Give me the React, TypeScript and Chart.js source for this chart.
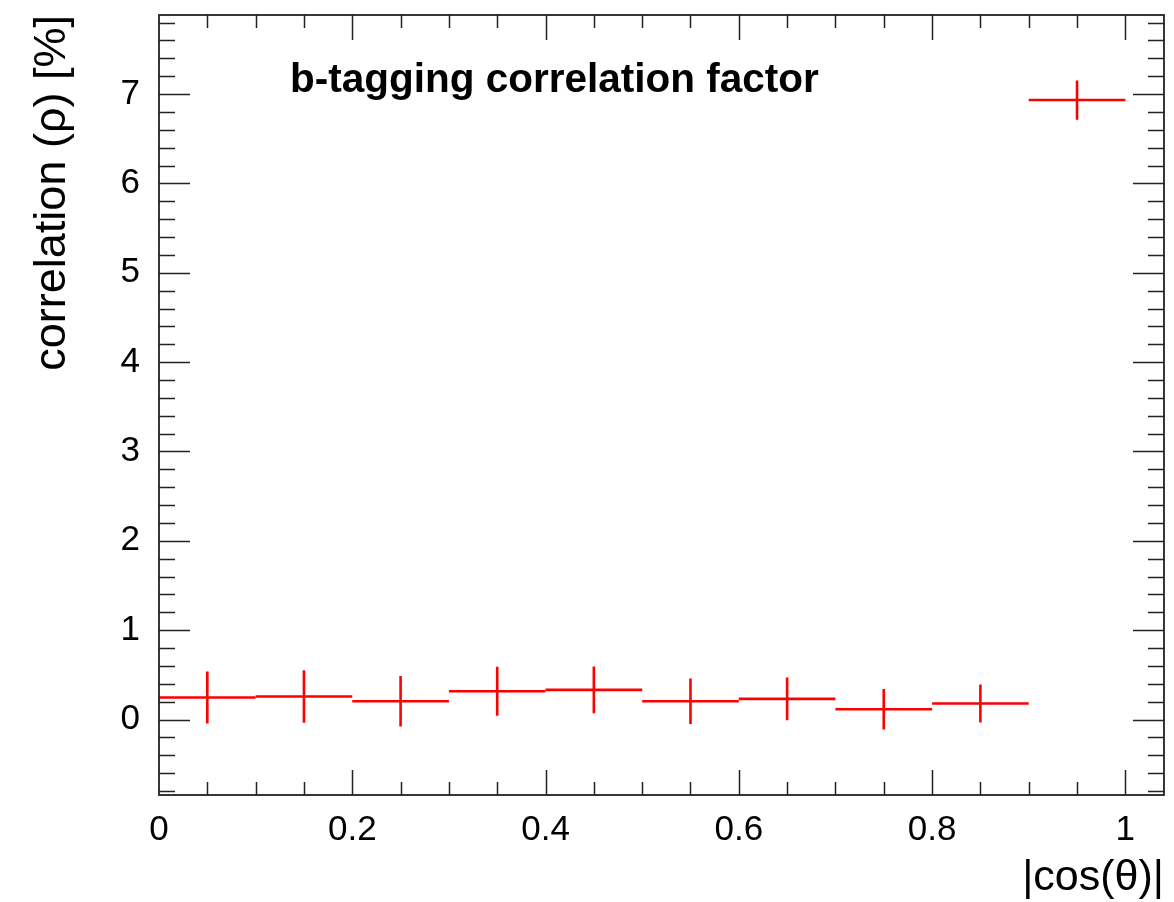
import React, { useEffect, useRef } from "react";
import { Chart, registerables } from "chart.js";

Chart.register(...registerables);

// ---- data ----
const binCenters = [0.05, 0.15, 0.25, 0.35, 0.45, 0.55, 0.65, 0.75, 0.85, 0.95];
const binHalfWidths = [0.05, 0.05, 0.05, 0.05, 0.05, 0.05, 0.05, 0.05, 0.05, 0.05];
const correlation = [0.246, 0.258, 0.205, 0.317, 0.332, 0.205, 0.231, 0.115, 0.179, 6.933];
const correlationErr = [0.29, 0.293, 0.282, 0.274, 0.262, 0.254, 0.239, 0.226, 0.213, 0.219];

const xTickValues = [0, 0.2, 0.4, 0.6, 0.8, 1];
const xTickLabels = ["0", "0.2", "0.4", "0.6", "0.8", "1"];
const yTickValues = [0, 1, 2, 3, 4, 5, 6, 7];
const yTickLabels = ["0", "1", "2", "3", "4", "5", "6", "7"];

const X_MIN = 0;
const X_MAX = 1.04;
const Y_MIN = -0.845;
const Y_MAX = 7.885;
const X_MINOR_STEP = 0.05;
const Y_MINOR_STEP = 0.2;

const plotTitle = "b-tagging correlation factor";
const xTitle = "|cos(θ)|";
const yTitle = "correlation (ρ) [%]";

const FONT = "'Liberation Sans', Arial, Helvetica, sans-serif";

const errorBarPlugin = {
  id: "errorBars",
  afterDatasetsDraw(chart: any) {
    const { ctx, scales } = chart;
    const xs = scales.x;
    const ys = scales.y;
    ctx.save();
    ctx.strokeStyle = "#ff0000";
    ctx.lineWidth = 2.6;
    ctx.lineCap = "butt";
    for (let i = 0; i < binCenters.length; i++) {
      const cx = xs.getPixelForValue(binCenters[i]);
      const x0 = xs.getPixelForValue(binCenters[i] - binHalfWidths[i]);
      const x1 = xs.getPixelForValue(binCenters[i] + binHalfWidths[i]);
      const cy = ys.getPixelForValue(correlation[i]);
      const y0 = ys.getPixelForValue(correlation[i] - correlationErr[i]);
      const y1 = ys.getPixelForValue(correlation[i] + correlationErr[i]);
      ctx.beginPath();
      ctx.moveTo(x0, cy);
      ctx.lineTo(x1, cy);
      ctx.moveTo(cx, y0);
      ctx.lineTo(cx, y1);
      ctx.stroke();
    }
    ctx.restore();
  },
};

const isMultiple = (v: number, step: number) => Math.abs(v / step - Math.round(v / step)) < 1e-6;

const framePlugin = {
  id: "rootFrame",
  afterDraw(chart: any) {
    const { ctx, chartArea, scales } = chart;
    const xs = scales.x;
    const ys = scales.y;
    const { left, right, top, bottom } = chartArea;
    ctx.save();
    ctx.strokeStyle = "#222";
    ctx.lineWidth = 1.8;
    ctx.strokeRect(left, top, right - left, bottom - top);

    ctx.lineWidth = 1.5;
    ctx.beginPath();
    // y ticks
    const yStart = Math.ceil(Y_MIN / Y_MINOR_STEP) * Y_MINOR_STEP;
    for (let v = yStart; v <= Y_MAX + 1e-9; v += Y_MINOR_STEP) {
      const major = isMultiple(v, 1);
      const len = major ? 31 : 16;
      const py = Math.round(ys.getPixelForValue(v)) + 0.5;
      ctx.moveTo(left, py);
      ctx.lineTo(left + len, py);
      ctx.moveTo(right, py);
      ctx.lineTo(right - len, py);
    }
    // x ticks
    for (let v = X_MIN + X_MINOR_STEP; v <= X_MAX + 1e-9; v += X_MINOR_STEP) {
      const major = isMultiple(v, 0.2);
      const len = major ? 25 : 13;
      const px = Math.round(xs.getPixelForValue(v)) + 0.5;
      ctx.moveTo(px, bottom);
      ctx.lineTo(px, bottom - len);
      ctx.moveTo(px, top);
      ctx.lineTo(px, top + len);
    }
    ctx.stroke();

    // texts
    ctx.fillStyle = "#000";
    ctx.font = `bold 40.5px ${FONT}`;
    ctx.textAlign = "left";
    ctx.textBaseline = "alphabetic";
    ctx.fillText(plotTitle, 290, 92);

    ctx.font = `43px ${FONT}`;
    ctx.textAlign = "right";
    ctx.fillText(xTitle, right, 890);

    ctx.font = `45px ${FONT}`;
    ctx.translate(65, top);
    ctx.rotate(-Math.PI / 2);
    ctx.textAlign = "right";
    ctx.fillText(yTitle, 0, 0);
    ctx.restore();
  },
};

export default function App() {
  const canvasRef = useRef<HTMLCanvasElement | null>(null);

  useEffect(() => {
    if (!canvasRef.current) return;
    const chart = new Chart(canvasRef.current, {
      type: "scatter",
      data: {
        datasets: [
          {
            label: "correlation",
            data: binCenters.map((x, i) => ({ x, y: correlation[i] })),
            pointRadius: 0,
            showLine: false,
            borderColor: "#ff0000",
            backgroundColor: "#ff0000",
          },
        ],
      },
      options: {
        responsive: false,
        animation: false,
        events: [],
        layout: { padding: { top: 15, right: 10, left: 0, bottom: 0 } },
        plugins: {
          legend: { display: false },
          tooltip: { enabled: false },
          title: { display: false },
        },
        scales: {
          x: {
            type: "linear",
            min: X_MIN,
            max: X_MAX,
            grid: { display: false, drawTicks: false },
            border: { display: false },
            afterBuildTicks: (scale: any) => {
              scale.ticks = xTickValues.map((value) => ({ value }));
            },
            afterFit: (scale: any) => {
              scale.height = 107;
              scale.paddingLeft = 0;
              scale.paddingRight = 0;
            },
            ticks: {
              autoSkip: false,
              maxRotation: 0,
              padding: 14,
              color: "#000",
              font: { family: FONT, size: 35 },
              callback: (value: any) => {
                const idx = xTickValues.findIndex((v) => Math.abs(v - Number(value)) < 1e-9);
                return idx >= 0 ? xTickLabels[idx] : "";
              },
            },
          },
          y: {
            type: "linear",
            min: Y_MIN,
            max: Y_MAX,
            grid: { display: false, drawTicks: false },
            border: { display: false },
            afterBuildTicks: (scale: any) => {
              scale.ticks = yTickValues.map((value) => ({ value }));
            },
            afterFit: (scale: any) => {
              scale.width = 159;
              scale.paddingTop = 0;
              scale.paddingBottom = 0;
            },
            ticks: {
              autoSkip: false,
              padding: 19,
              color: "#000",
              font: { family: FONT, size: 35 },
              callback: (value: any) => {
                const idx = yTickValues.findIndex((v) => Math.abs(v - Number(value)) < 1e-9);
                return idx >= 0 ? yTickLabels[idx] : "";
              },
            },
          },
        },
      },
      plugins: [errorBarPlugin, framePlugin],
    });
    return () => chart.destroy();
  }, []);

  return (
    <div style={{ position: "fixed", left: 0, top: 0, width: 1174, height: 902, background: "#fff" }}>
      <canvas ref={canvasRef} width={1174} height={902} style={{ display: "block" }} />
    </div>
  );
}
